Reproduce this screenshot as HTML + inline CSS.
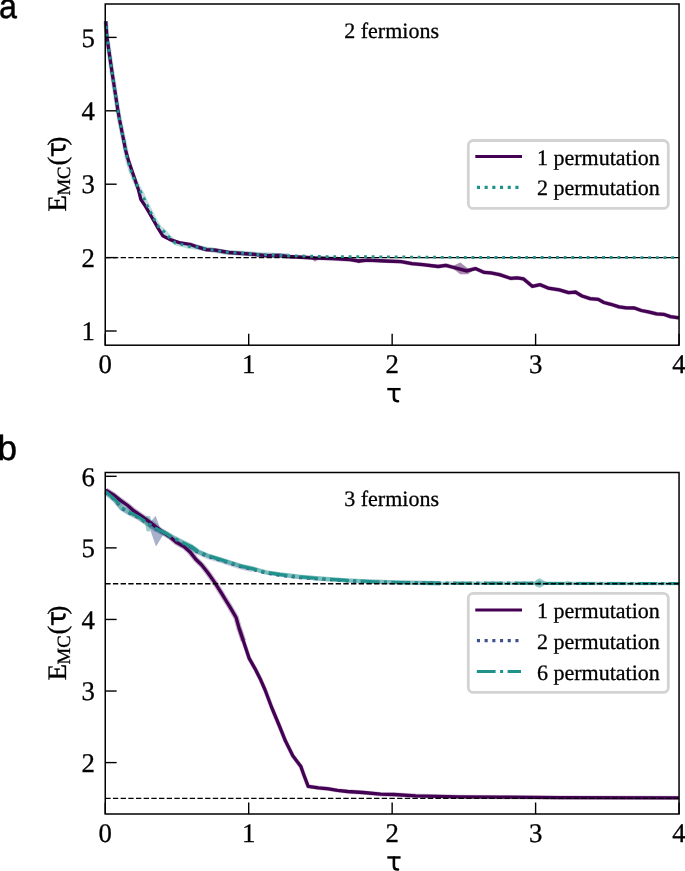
<!DOCTYPE html>
<html><head><meta charset="utf-8"><style>
html,body{margin:0;padding:0;background:#fff;}
svg{display:block;will-change:transform;text-rendering:geometricPrecision;}
.ax{fill:none;stroke:#000;stroke-width:1.5;}
.tk{stroke:#000;stroke-width:1.4;}
.tl{font-family:"Liberation Serif",serif;font-size:26.8px;fill:#000;stroke:#000;stroke-width:0.3px;}
.lg{font-family:"Liberation Serif",serif;font-size:22px;fill:#000;stroke:#000;stroke-width:0.3px;}
.yl{font-family:"Liberation Serif",serif;font-size:26.7px;fill:#000;stroke:#000;stroke-width:0.3px;}
.sans{font-family:"Liberation Sans",sans-serif;}
.xl{font-family:"Liberation Sans",sans-serif;font-size:25px;fill:#000;}
.pl{font-family:"Liberation Sans",sans-serif;font-size:35px;fill:#000;stroke:#000;stroke-width:0.5px;}
</style></head><body>
<svg width="685" height="871" viewBox="0 0 685 871">
<text transform="translate(-0.9,18.4) scale(0.92,1)" class="pl">a</text>
<text transform="translate(-2.6,459.7) scale(1.0,1)" class="pl">b</text>
<polyline points="105.8,21.2 106.9,37.0 111.7,70.0 117.9,110.4 119.6,120.0 122.9,136.5 123.8,139.6 127.2,158.5 131.5,172.3 135.0,180.9 138.4,187.8 142.7,195.5 145.3,201.5 148.7,208.4 153.9,218.8 159.1,227.4 164.2,231.7 169.4,237.7 175.4,242.9 182.3,244.6 189.9,246.6 197.5,247.2 204.7,248.7 225.7,252.2 243.2,253.3 258.4,254.5 274.8,255.2 288.8,255.7" fill="none" stroke="#21918c" stroke-opacity="0.3" stroke-width="5" stroke-linejoin="round"/><polyline points="189.9,244.3 198.1,247.2 206.2,249.6 215.0,250.1 228.7,252.5 254.4,254.3 266.0,255.6 280.0,255.4 287.0,256.5 297.5,257.0 315.0,258.0 332.6,258.6 350.0,259.6 358.8,261.0 367.6,260.1 385.0,261.0 401.0,261.6 411.9,263.6 422.8,264.7 438.2,266.5 445.8,265.4 455.7,268.0 466.6,270.8 475.4,268.6 484.2,272.4 490.7,272.8 499.5,274.6 510.4,278.3 517.0,277.8 523.6,278.9 532.3,286.3 540.2,284.7 548.1,288.1 559.4,289.9 568.5,292.6 575.5,292.1 582.0,296.0 590.0,298.6 598.3,299.4 603.9,302.5 610.8,304.3 619.1,306.9 626.1,307.8 634.4,308.0 641.3,310.5 648.3,311.9 656.6,313.9 663.5,314.3 670.4,316.6 679.0,317.8" fill="none" stroke="#440154" stroke-opacity="0.3" stroke-width="4.2" stroke-linejoin="round"/><polygon points="452.8,266.0 460.2,262.5 467.7,268.2 474.7,269.5 467.7,274.3 460.2,274.3 452.8,268.5" fill="#440154" fill-opacity="0.45"/><polygon points="310.0,258.0 315.0,258.5 319.5,258.5 315.0,261.8" fill="#440154" fill-opacity="0.45"/><polygon points="354.0,260.0 359.0,260.5 363.0,261.0 358.8,263.5" fill="#440154" fill-opacity="0.45"/><polygon points="569.0,292.2 576.0,290.0 581.0,294.5 576.0,294.2" fill="#440154" fill-opacity="0.4"/>
<polyline points="105.8,21.2 106.9,37.0 111.7,70.0 117.9,110.4 119.6,120.0 122.9,136.5 125.6,150.3 128.4,160.4 132.5,172.4 136.6,184.3 138.5,190.0 140.8,199.3 145.5,206.4 150.2,214.5 154.9,222.7 158.9,229.7 163.0,236.1 170.0,239.6 179.4,242.6 189.9,244.3 198.1,247.2 206.2,249.6 215.0,250.1 228.7,252.5 254.4,254.3 266.0,255.6 280.0,255.4 287.0,256.5 297.5,257.0 315.0,258.0 332.6,258.6 350.0,259.6 358.8,261.0 367.6,260.1 385.0,261.0 401.0,261.6 411.9,263.6 422.8,264.7 438.2,266.5 445.8,265.4 455.7,268.0 466.6,270.8 475.4,268.6 484.2,272.4 490.7,272.8 499.5,274.6 510.4,278.3 517.0,277.8 523.6,278.9 532.3,286.3 540.2,284.7 548.1,288.1 559.4,289.9 568.5,292.6 575.5,292.1 582.0,296.0 590.0,298.6 598.3,299.4 603.9,302.5 610.8,304.3 619.1,306.9 626.1,307.8 634.4,308.0 641.3,310.5 648.3,311.9 656.6,313.9 663.5,314.3 670.4,316.6 679.0,317.8" fill="none" stroke="#440154" stroke-width="3.3" stroke-linejoin="round"/>
<line x1="105.25" y1="257.60" x2="679.05" y2="257.60" stroke="#000" stroke-width="1.45" stroke-dasharray="5.36 2.32"/>
<polyline points="105.8,21.2 106.9,37.0 111.7,70.0 117.9,110.4 119.6,120.0 122.9,136.5 123.8,139.6 127.2,158.5 131.5,172.3 135.0,180.9 138.4,187.8 142.7,195.5 145.3,201.5 148.7,208.4 153.9,218.8 159.1,227.4 164.2,231.7 169.4,237.7 175.4,242.9 182.3,244.6 189.9,246.6 197.5,247.2 204.7,248.7 225.7,252.2 243.2,253.3 258.4,254.5 274.8,255.2 288.8,255.7 305.1,256.1 325.6,256.6" fill="none" stroke="#21918c" stroke-width="2.9" stroke-dasharray="2.9 4.78" stroke-dashoffset="2.72"/>
<polyline points="325.6,256.6 360.0,256.7 400.0,257.0 450.0,257.4 500.0,257.5 678.9,257.6" fill="none" stroke="#21918c" stroke-width="2.9" stroke-dasharray="2.9 4.78"/>
<rect x="105.25" y="4.0" width="573.80" height="341.20" class="ax"/>
<line x1="105.25" y1="331.00" x2="116.65" y2="331.00" class="tk"/><text x="94.9" y="340.20" class="tl" text-anchor="end">1</text><line x1="105.25" y1="257.60" x2="116.65" y2="257.60" class="tk"/><text x="94.9" y="266.80" class="tl" text-anchor="end">2</text><line x1="105.25" y1="184.20" x2="116.65" y2="184.20" class="tk"/><text x="94.9" y="193.40" class="tl" text-anchor="end">3</text><line x1="105.25" y1="110.80" x2="116.65" y2="110.80" class="tk"/><text x="94.9" y="120.00" class="tl" text-anchor="end">4</text><line x1="105.25" y1="37.40" x2="116.65" y2="37.40" class="tk"/><text x="94.9" y="46.60" class="tl" text-anchor="end">5</text>
<line x1="105.25" y1="345.2" x2="105.25" y2="333.70" class="tk"/><text x="105.25" y="373" class="tl" text-anchor="middle">0</text><line x1="248.70" y1="345.2" x2="248.70" y2="333.70" class="tk"/><text x="248.70" y="373" class="tl" text-anchor="middle">1</text><line x1="392.15" y1="345.2" x2="392.15" y2="333.70" class="tk"/><text x="392.15" y="373" class="tl" text-anchor="middle">2</text><line x1="535.60" y1="345.2" x2="535.60" y2="333.70" class="tk"/><text x="535.60" y="373" class="tl" text-anchor="middle">3</text><line x1="679.05" y1="345.2" x2="679.05" y2="333.70" class="tk"/><text x="679.05" y="373" class="tl" text-anchor="middle">4</text>
<text x="391.6" y="37.8" class="lg" text-anchor="middle">2 fermions</text>
<rect x="468.3" y="140.5" width="199.99999999999994" height="67.9" rx="5" ry="5" fill="#fff" fill-opacity="0.8" stroke="#d3d3d3" stroke-width="2.8"/><line x1="475.3" y1="156.6" x2="522" y2="156.6" stroke="#440154" stroke-width="3"/><text x="537" y="164.6" class="lg">1 permutation</text><line x1="476.9" y1="187.4" x2="522" y2="187.4" stroke="#21918c" stroke-width="3.1" stroke-dasharray="3.1 4.6"/><text x="537" y="195.4" class="lg">2 permutation</text>
<g transform="translate(0,0)" fill="none" stroke="#000" stroke-width="2.4"><path d="M387.3,389.15 H400.6"/><path d="M393.9,389.2 V397.6 Q393.9,401.2 397.4,401.2 H398.0" stroke-linecap="round" stroke-width="2.6"/></g>
<text transform="translate(66.1,211.40) rotate(-90)" class="yl">E</text><text transform="translate(69.9,195.50) rotate(-90)" class="yl" style="font-size:18.7px">MC</text><text transform="translate(65.9,165.60) rotate(-90)" class="yl">(</text><text transform="translate(65.9,145.60) rotate(-90)" class="yl">)</text><g transform="translate(58.3,149.70) rotate(-90) translate(-393.95,-395)" fill="none" stroke="#000" stroke-width="2.4"><path d="M387.3,389.15 H400.6"/><path d="M393.9,389.2 V397.6 Q393.9,401.2 397.4,401.2 H398.0" stroke-linecap="round" stroke-width="2.6"/></g>
<polyline points="105.8,490.2 113.1,494.6 120.4,500.4 127.7,505.5 133.6,510.7 142.3,516.5 151.1,523.1 161.3,531.1 170.1,536.9 175.9,542.0 184.7,547.2 190.0,551.9 195.8,559.2 201.7,565.0 207.5,572.3 214.8,582.6 222.1,594.2 224.4,598.0 230.2,607.3 236.1,617.5 239.0,627.7 243.4,640.9" fill="none" stroke="#440154" stroke-opacity="0.3" stroke-width="5.6" stroke-linejoin="round"/><polyline points="239.0,627.7 243.4,640.9 249.2,658.4 255.0,668.6 260.9,680.3 265.1,690.0 271.7,707.5 279.0,725.0 285.5,741.1 292.8,755.7 300.9,766.6 303.8,774.7 308.2,786.4 318.4,787.8 328.6,788.8 337.4,790.4 347.6,791.5 363.1,792.5 380.7,794.2 393.8,794.5 415.7,795.8 437.6,796.4 459.5,796.9 500.0,797.1 560.0,797.6 678.9,797.9" fill="none" stroke="#440154" stroke-opacity="0.25" stroke-width="4.4" stroke-linejoin="round"/><polyline points="105.8,492.7 114.6,500.0 121.9,508.7 129.2,513.1 138.0,517.5 146.7,523.3 155.5,529.2 164.2,533.6 173.0,538.7 181.8,543.0 190.5,547.4 197.3,552.2 207.5,556.5 219.2,560.2 230.9,563.8 242.6,567.5 252.8,569.7" fill="none" stroke="#3b528b" stroke-opacity="0.25" stroke-width="5" stroke-linejoin="round"/><polyline points="105.8,491.7 114.6,499.0 121.9,507.7 129.2,512.1 138.0,516.5 146.7,522.3 155.5,528.2 164.2,532.6 173.0,537.7 181.8,542.0 190.5,546.4 197.3,551.2" fill="none" stroke="#21918c" stroke-opacity="0.5" stroke-width="5.2" stroke-linejoin="round"/><polyline points="190.5,546.4 197.3,551.2 207.5,555.5 219.2,559.2 230.9,562.8 242.6,566.5 252.8,568.7 265.9,572.3 280.0,574.5 298.7,576.8 322.0,578.7 350.0,580.6 373.4,581.7 396.8,582.4 420.2,582.9 440.0,583.2" fill="none" stroke="#21918c" stroke-opacity="0.6" stroke-width="4.4" stroke-linejoin="round"/><polyline points="420.2,582.9 440.0,583.2 678.9,583.6" fill="none" stroke="#21918c" stroke-opacity="0.45" stroke-width="3.4" stroke-linejoin="round"/><polygon points="148.4,524.5 155.6,515.8 162.8,535.5 156.0,546.5" fill="#3b528b" fill-opacity="0.45"/><polygon points="144.5,520.0 146.5,515.8 150.5,516.5 151.1,526.0 149.5,531.8 146.5,531.0" fill="#21918c" fill-opacity="0.45"/><polygon points="533.6,583.5 536.0,580.0 539.9,578.2 543.0,580.2 546.5,582.3 543.0,586.0 539.9,587.8 536.0,586.5" fill="#21918c" fill-opacity="0.5"/><polygon points="562.0,583.6 567.9,580.5 573.0,583.6 567.9,586.0" fill="#21918c" fill-opacity="0.3"/>
<polyline points="105.8,490.2 113.1,494.6 120.4,500.4 127.7,505.5 133.6,510.7 142.3,516.5 151.1,523.1 161.3,531.1 170.1,536.9 175.9,542.0 184.7,547.2 190.0,551.9 195.8,559.2 201.7,565.0 207.5,572.3 214.8,582.6 222.1,594.2 224.4,598.0 230.2,607.3 236.1,617.5 239.0,627.7 243.4,640.9 249.2,658.4 255.0,668.6 260.9,680.3 265.1,690.0 271.7,707.5 279.0,725.0 285.5,741.1 292.8,755.7 300.9,766.6 303.8,774.7 308.2,786.4 318.4,787.8 328.6,788.8 337.4,790.4 347.6,791.5 363.1,792.5 380.7,794.2 393.8,794.5 415.7,795.8 437.6,796.4 459.5,796.9 500.0,797.1 560.0,797.6 678.9,797.9" fill="none" stroke="#440154" stroke-width="3.3" stroke-linejoin="round"/>
<polyline points="105.8,492.5 114.6,499.8 121.9,508.5 129.2,512.9 138.0,517.3 146.7,523.1 155.5,529.0 164.2,533.4 173.0,538.5 181.8,542.8 190.5,547.2 197.3,552.0 207.5,556.3 219.2,560.0 230.9,563.6 242.6,567.3 252.8,569.5 265.9,573.1 280.0,575.3 298.7,577.6 322.0,579.1 350.0,581.0 373.4,582.1 396.8,582.8 420.2,582.9 440.0,583.2 678.9,583.6" fill="none" stroke="#3b528b" stroke-width="3" stroke-dasharray="3 4.7"/>
<polyline points="105.8,491.7 114.6,499.0 121.9,507.7 129.2,512.1 138.0,516.5 146.7,522.3 155.5,528.2 164.2,532.6 173.0,537.7 181.8,542.0 190.5,546.4 197.3,551.2 207.5,555.5 219.2,559.2 230.9,562.8 242.6,566.5 252.8,568.7 265.9,572.3 280.0,574.5 298.7,576.8 322.0,578.7 350.0,580.6 373.4,581.7 396.8,582.4 420.2,582.9 440.0,583.2 678.9,583.6" fill="none" stroke="#21918c" stroke-width="3" stroke-dasharray="18.8 4.5 3 4.5"/>
<line x1="105.25" y1="583.66" x2="679.05" y2="583.66" stroke="#000" stroke-width="1.45" stroke-dasharray="5.36 2.32"/>
<line x1="105.25" y1="798.39" x2="679.05" y2="798.39" stroke="#000" stroke-width="1.45" stroke-dasharray="5.36 2.32"/>
<rect x="105.25" y="472.5" width="573.80" height="341.50" class="ax"/>
<line x1="105.25" y1="762.60" x2="116.65" y2="762.60" class="tk"/><text x="94.9" y="771.80" class="tl" text-anchor="end">2</text><line x1="105.25" y1="691.03" x2="116.65" y2="691.03" class="tk"/><text x="94.9" y="700.23" class="tl" text-anchor="end">3</text><line x1="105.25" y1="619.45" x2="116.65" y2="619.45" class="tk"/><text x="94.9" y="628.65" class="tl" text-anchor="end">4</text><line x1="105.25" y1="547.88" x2="116.65" y2="547.88" class="tk"/><text x="94.9" y="557.08" class="tl" text-anchor="end">5</text><line x1="105.25" y1="476.30" x2="116.65" y2="476.30" class="tk"/><text x="94.9" y="485.50" class="tl" text-anchor="end">6</text>
<line x1="105.25" y1="814.0" x2="105.25" y2="802.50" class="tk"/><text x="105.25" y="842" class="tl" text-anchor="middle">0</text><line x1="248.70" y1="814.0" x2="248.70" y2="802.50" class="tk"/><text x="248.70" y="842" class="tl" text-anchor="middle">1</text><line x1="392.15" y1="814.0" x2="392.15" y2="802.50" class="tk"/><text x="392.15" y="842" class="tl" text-anchor="middle">2</text><line x1="535.60" y1="814.0" x2="535.60" y2="802.50" class="tk"/><text x="535.60" y="842" class="tl" text-anchor="middle">3</text><line x1="679.05" y1="814.0" x2="679.05" y2="802.50" class="tk"/><text x="679.05" y="842" class="tl" text-anchor="middle">4</text>
<text x="391.6" y="506.4" class="lg" text-anchor="middle">3 fermions</text>
<rect x="468.3" y="593.3" width="199.99999999999994" height="99.10000000000002" rx="5" ry="5" fill="#fff" fill-opacity="0.8" stroke="#d3d3d3" stroke-width="2.8"/><line x1="475.3" y1="609.9" x2="522" y2="609.9" stroke="#440154" stroke-width="3"/><text x="537" y="617.9" class="lg">1 permutation</text><line x1="476.9" y1="640.6" x2="522" y2="640.6" stroke="#3b528b" stroke-width="3.1" stroke-dasharray="3.1 4.6"/><text x="537" y="648.6" class="lg">2 permutation</text><line x1="476.8" y1="671.6" x2="521" y2="671.6" stroke="#21918c" stroke-width="3" stroke-dasharray="18.8 4.5 3 4.5"/><text x="537" y="679.6" class="lg">6 permutation</text>
<g transform="translate(0,468.3)" fill="none" stroke="#000" stroke-width="2.4"><path d="M387.3,389.15 H400.6"/><path d="M393.9,389.2 V397.6 Q393.9,401.2 397.4,401.2 H398.0" stroke-linecap="round" stroke-width="2.6"/></g>
<text transform="translate(66.1,680.30) rotate(-90)" class="yl">E</text><text transform="translate(69.9,664.40) rotate(-90)" class="yl" style="font-size:18.7px">MC</text><text transform="translate(65.9,634.50) rotate(-90)" class="yl">(</text><text transform="translate(65.9,614.50) rotate(-90)" class="yl">)</text><g transform="translate(58.3,618.60) rotate(-90) translate(-393.95,-395)" fill="none" stroke="#000" stroke-width="2.4"><path d="M387.3,389.15 H400.6"/><path d="M393.9,389.2 V397.6 Q393.9,401.2 397.4,401.2 H398.0" stroke-linecap="round" stroke-width="2.6"/></g>
</svg>
</body></html>
